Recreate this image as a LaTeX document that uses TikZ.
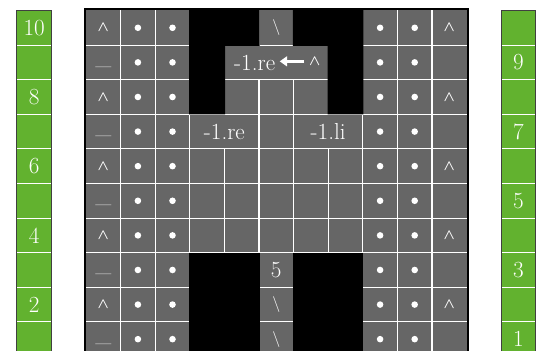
\documentclass[tikz,border=0pt]{standalone}
\usepackage{fontspec}
\usepackage{bm}
\usetikzlibrary{arrows.meta}
\definecolor{cellgray}{HTML}{666666}
\definecolor{stripgreen}{HTML}{62B22F}
\begin{document}
\begin{tikzpicture}[
        lbl/.style={text=white, font=\fontsize{19}{22}\selectfont, inner sep=1pt},
        sym/.style={text=white, font=\fontsize{13}{15}\selectfont, inner sep=0pt},
        dot/.style={circle, fill=white, inner sep=0pt, minimum size=0.19cm},
        gridline/.style={white, line width=0.9pt},
        stripbox/.style={draw=black!75, line width=0.6pt}
    ]
        \useasboundingbox (-2.486,0.303) rectangle (13.035,-9.841);
        \clip (-2.486,0.303) rectangle (13.035,-9.841);
        \fill[stripgreen] (-2,0) rectangle (-1,-10);
        \fill[stripgreen] (12,0) rectangle (13,-10);
        \foreach \y in {1,...,9} {
            \draw[gridline] (-2,-\y) -- (-1,-\y);
            \draw[gridline] (12,-\y) -- (13,-\y);
        }
        \draw[stripbox] (-2,0) rectangle (-1,-10);
        \draw[stripbox] (12,0) rectangle (13,-10);
        \foreach \n [count=\i from 0] in {10,8,6,4,2}
            \node[lbl] (left\n) at (-1.5,-2*\i-0.5) {\n};
        \foreach \n [count=\i from 0] in {9,7,5,3,1}
            \node[lbl] (right\n) at (12.5,-2*\i-1.5) {\n};
        \fill[black] (-0.06,0.06) rectangle (11.06,-10.06);
        \fill[cellgray] (0,0) rectangle (11,-10);
        \foreach \x in {1,...,10}
            \draw[gridline] (\x,0) -- (\x,-10);
        \foreach \y in {1,...,9}
            \draw[gridline] (0,-\y) -- (11,-\y);
        \fill[cellgray] (4.03,-1.03) rectangle (6.97,-1.97);
        \fill[cellgray] (3.03,-3.03) rectangle (4.97,-3.97);
        \fill[cellgray] (6.03,-3.03) rectangle (7.97,-3.97);
        \fill[black] (2.98,0.02) -- (5.02,0.02) -- (5.02,-1.02) -- (4.02,-1.02) -- (4.02,-3) -- (2.98,-3) -- cycle;
        \fill[black] (5.98,0.02) -- (8.02,0.02) -- (8.02,-3) -- (6.98,-3) -- (6.98,-1.02) -- (5.98,-1.02) -- cycle;
        \fill[black] (2.98,-7) rectangle (5.02,-10.1);
        \fill[black] (5.98,-7) rectangle (8.02,-10.1);
        \foreach \r in {0,...,9} {
            \node[dot] (dotA\r) at (1.5,-\r-0.5) {};
            \node[dot] (dotB\r) at (2.5,-\r-0.5) {};
            \node[dot] (dotC\r) at (8.5,-\r-0.5) {};
            \node[dot] (dotD\r) at (9.5,-\r-0.5) {};
        }
        \foreach \r in {0,2,...,8} {
            \node[sym] (capL\r) at (0.5,-\r-0.5) {$\bm{\wedge}$};
            \node[sym] (capR\r) at (10.5,-\r-0.5) {$\bm{\wedge}$};
        }
        \foreach \r in {1,3,...,9}
            \node[lbl, inner sep=0pt] (bar\r) at (0.5,-\r-0.6) {\_};
        \node[sym] (bsTop) at (5.5,-0.5) {\textbackslash};
        \node[lbl] (five) at (5.5,-7.5) {5};
        \node[sym] (bsA) at (5.5,-8.5) {\textbackslash};
        \node[sym] (bsB) at (5.5,-9.5) {\textbackslash};
        \node[lbl] (reTop) at (4.875,-1.52) {-1.re};
        \node[sym] (capMid) at (6.61,-1.47) {$\bm{\wedge}$};
        \draw[-{Triangle[width=8pt,length=6pt]}, white, line width=2.2pt, shorten <=0.13cm, shorten >=0.09cm] (capMid.west) -- (capMid.west -| reTop.east);
        \node[lbl] (reMid) at (4,-3.5) {-1.re};
        \node[lbl] (liMid) at (7,-3.5) {-1.li};
    \end{tikzpicture}
\end{document}
